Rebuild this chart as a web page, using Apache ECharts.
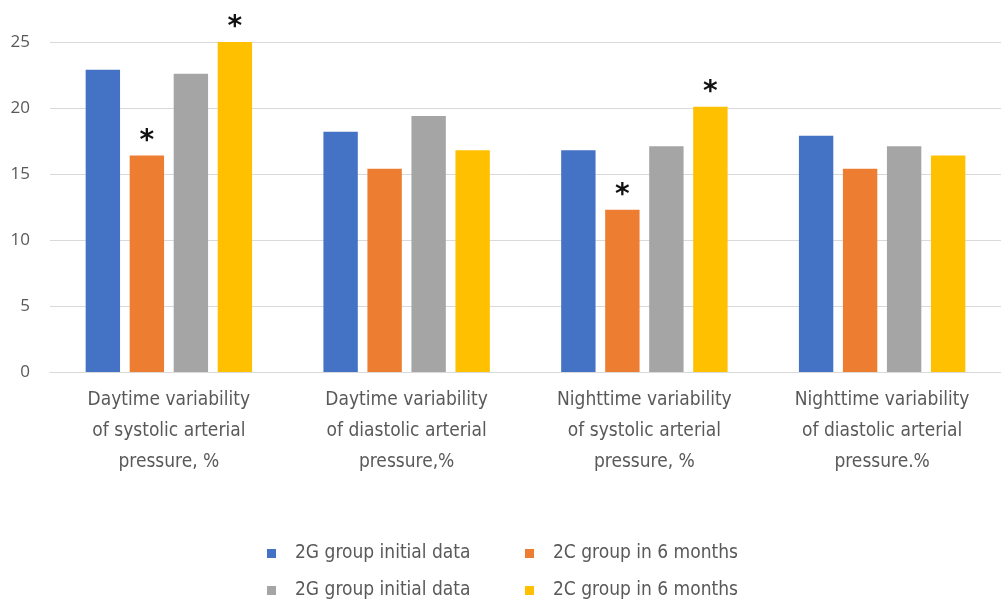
<!DOCTYPE html>
<html>
<head>
<meta charset="utf-8">
<script src="https://cdn.jsdelivr.net/npm/echarts@6/dist/echarts.min.js"></script>
<style>
  html, body { margin: 0; padding: 0; background: #fff; }
  #chart { width: 1001px; height: 599px; }
</style>
</head>
<body>
<div id="chart"></div>
<script>
// categories (x axis)
const categories = [
  "Daytime variability\nof systolic arterial\npressure, %",
  "Daytime variability\nof diastolic arterial\npressure,%",
  "Nighttime variability\nof systolic arterial\npressure, %",
  "Nighttime variability\nof diastolic arterial\npressure.%",
];

// series values
const blueInitial = [22.9, 18.2, 16.8, 17.9];
const orangeMonth6 = [16.4, 15.4, 12.3, 15.4];
const grayInitial = [22.6, 19.4, 17.1, 17.1];
const yellowMonth6 = [25.0, 16.8, 20.1, 16.4];

// which bars carry a significance asterisk
const orangeStar = [true, false, true, false];
const yellowStar = [true, false, true, false];

const legendNames = [
  "2G group initial data",
  "2C group in 6 months",
  "2G group initial data",
  "2C group in 6 months",
];
const colors = ["#4472C4", "#ED7D31", "#A5A5A5", "#FFC000"];

const yTicks = { min: 0, max: 25, interval: 5 };

const FONT = '"DejaVu Sans Condensed", "Roboto", sans-serif';
const grey = "#595959";

const chart = echarts.init(document.getElementById("chart"), null, { renderer: "canvas" });

function starLabel(flags) {
  return {
    show: true,
    position: "top",
    distance: 0,
    color: "#111",
    fontFamily: "DejaVu Sans",
    fontWeight: "bold",
    fontSize: 28,
    formatter: (p) => (flags[p.dataIndex] ? "*" : ""),
  };
}

// series names are made unique with trailing spaces; legend formatter trims them
const seriesNames = legendNames.map((n, i) => n + " ".repeat(i));
const seriesData = [blueInitial, orangeMonth6, grayInitial, yellowMonth6];
const starFlags = [null, orangeStar, null, yellowStar];

const series = seriesData.map((d, i) => ({
  name: seriesNames[i],
  type: "bar",
  data: d,
  barGap: "28%",
  barCategoryGap: "30%",
  itemStyle: { color: colors[i] },
  label: starFlags[i] ? starLabel(starFlags[i]) : { show: false },
  emphasis: { disabled: true },
}));

// one legend per item so the 2x2 block sits where it does in the picture
const legendPos = [
  { left: 262, top: 539 },
  { left: 520, top: 539 },
  { left: 262, top: 576 },
  { left: 520, top: 576 },
];
const legends = seriesNames.map((n, i) => ({
  data: [n],
  left: legendPos[i].left,
  top: legendPos[i].top,
  icon: "rect",
  itemWidth: 9,
  itemHeight: 9,
  selectedMode: false,
  formatter: (name) => name.trim(),
  textStyle: { color: grey, fontSize: 19, fontFamily: FONT, padding: [0, 0, 0, 14] },
}));

chart.setOption({
  animation: false,
  grid: { left: 50, right: 0, top: 42, bottom: 227, containLabel: false },
  legend: legends,
  xAxis: {
    type: "category",
    data: categories,
    axisLine: { show: true, lineStyle: { color: "#d9d9d9", width: 1 } },
    axisTick: { show: false },
    axisLabel: {
      color: grey,
      fontSize: 19,
      fontFamily: FONT,
      lineHeight: 31,
      margin: 13,
      interval: 0,
    },
  },
  yAxis: {
    type: "value",
    min: yTicks.min,
    max: yTicks.max,
    interval: yTicks.interval,
    axisLine: { show: false },
    axisTick: { show: false },
    splitLine: { lineStyle: { color: "#d9d9d9", width: 1 } },
    axisLabel: { color: grey, fontSize: 17, fontFamily: "Open Sans, sans-serif", margin: 20 },
  },
  series,
});
</script>
</body>
</html>
